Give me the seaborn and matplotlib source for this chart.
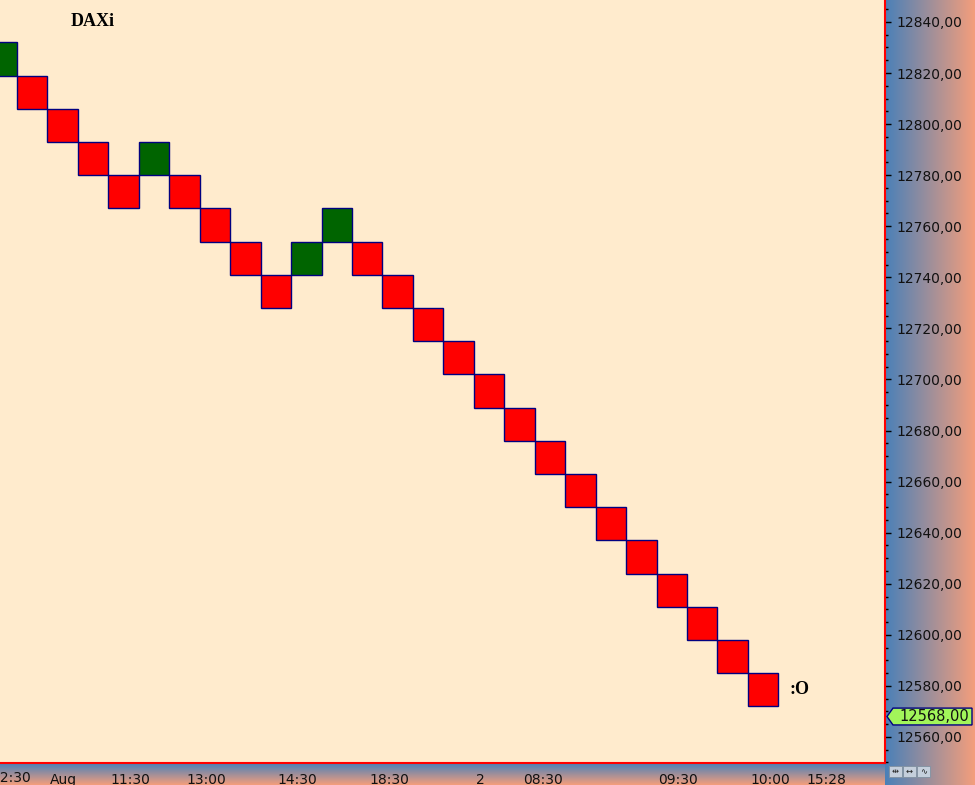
import matplotlib
matplotlib.use("Agg")
import matplotlib.pyplot as plt
import matplotlib.transforms as mtransforms
from matplotlib.colors import LinearSegmentedColormap
from matplotlib.patches import Polygon, Rectangle
from matplotlib.ticker import MultipleLocator, FuncFormatter
import numpy as np
import seaborn as sns

# renko bricks, box size 13 points (open -> close)
brick_open = [12819, 12819, 12806, 12793, 12780, 12780, 12780, 12767, 12754, 12741, 12741, 12754, 12754,
              12741, 12728, 12715, 12702, 12689, 12676, 12663, 12650, 12637, 12624, 12611, 12598, 12585]
brick_close = [12832, 12806, 12793, 12780, 12767, 12793, 12767, 12754, 12741, 12728, 12754, 12767, 12741,
               12728, 12715, 12702, 12689, 12676, 12663, 12650, 12637, 12624, 12611, 12598, 12585, 12572]

# time axis labels (brick position where the label starts)
time_ticks = [0.1, 2.0, 4.0, 6.5, 9.5, 12.5, 16.0, 17.55, 22.0, 25.03, 26.87]
time_labels = ["12:30", "Aug", "11:30", "13:00", "14:30", "18:30", "2", "08:30", "09:30", "10:00", "15:28"]

last_price = 12568
title = "DAXi"

sns.set_style("white")
plt.rcParams["font.family"] = ["DejaVu Sans"]
plt.rcParams["text.color"] = "black"

W, H = 975, 785
fig = plt.figure(figsize=(W / 100, H / 100), dpi=100)

# gradient panels behind the axes
blue_salmon = LinearSegmentedColormap.from_list("bs", ["#4a80b8", "#f49e7c"])
right_panel = fig.add_axes([885 / W, 0, 90 / W, 1], zorder=0)
right_panel.imshow(np.linspace(0, 1, 256)[None, :], aspect="auto", cmap=blue_salmon)
right_panel.axis("off")
bottom_panel = fig.add_axes([0, 0, 885 / W, 22 / H], zorder=0)
bottom_panel.imshow(np.linspace(0, 1, 64)[:, None], aspect="auto", cmap=blue_salmon)
bottom_panel.axis("off")

ax = fig.add_axes([0, 1 - 763 / H, 885 / W, 763 / H], zorder=1)
ax.set_facecolor("#ffebcd")

x = np.arange(len(brick_open)) + 0.5
lows = np.minimum(brick_open, brick_close)
heights = np.abs(np.array(brick_close) - np.array(brick_open))
colors = ["#006400" if c > o else "#ff0000" for o, c in zip(brick_open, brick_close)]
ax.bar(x, heights, bottom=lows, width=1.0, color=colors, edgecolor="#000080", linewidth=1.0)

ax.set_xlim(0.443, 29.5)
ax.set_ylim(12549.8, 12848.6)

for side in ["top", "left"]:
    ax.spines[side].set_visible(False)
for side in ["right", "bottom"]:
    ax.spines[side].set_color("#ff0000")
    ax.spines[side].set_linewidth(1.5)

# price axis on the right
ax.yaxis.tick_right()
ax.yaxis.set_major_locator(MultipleLocator(20))
ax.yaxis.set_minor_locator(MultipleLocator(5))
ax.yaxis.set_major_formatter(FuncFormatter(lambda v, p: f"{v:.2f}".replace(".", ",")))
ax.tick_params(axis="y", which="major", direction="out", length=4, width=1, color="black",
               pad=4, labelsize=10, labelcolor="#111111")
ax.tick_params(axis="y", which="minor", direction="out", length=2, width=1, color="black")

# time axis
in_view = [(t, l) for t, l in zip(time_ticks, time_labels) if t >= ax.get_xlim()[0]]
ax.set_xticks([t for t, _ in in_view])
ax.set_xticklabels([l for _, l in in_view])
ax.tick_params(axis="x", direction="out", length=4, width=1, color="black", pad=3,
               labelsize=10, labelcolor="#111111")
offset = mtransforms.ScaledTranslation(2 / 100, 0, fig.dpi_scale_trans)
for lab in ax.get_xticklabels():
    lab.set_horizontalalignment("left")
    lab.set_transform(lab.get_transform() + offset)
# first label sits partly off the left edge, as in the original
for t, l in zip(time_ticks, time_labels):
    if t < ax.get_xlim()[0]:
        ax.text(t, -0.0105, l, transform=ax.get_xaxis_transform() + offset, ha="left", va="top",
                fontsize=10, color="#111111", clip_on=False)

# title and last brick marker
ax.text(71 / 885, 1 - 22 / 763, title, transform=ax.transAxes, ha="left", va="center",
        fontsize=13, fontweight="bold", family="Liberation Serif")
ax.text(len(brick_open) + 0.35, brick_close[-1] + 6.5, ":O", ha="left", va="center",
        fontsize=13, fontweight="bold", family="Liberation Serif")

# last price tag on the price axis
tag_tr = ax.get_yaxis_transform()
half = 3.3
tag = Polygon([(887 / 885, last_price), (893 / 885, last_price + half), (972 / 885, last_price + half),
               (972 / 885, last_price - half), (893 / 885, last_price - half)],
              closed=True, transform=tag_tr, facecolor="#a2f55a", edgecolor="#000080",
              linewidth=1, clip_on=False, zorder=5)
ax.add_patch(tag)
ax.text(969 / 885, last_price, f"{last_price:.2f}".replace(".", ","), transform=tag_tr,
        ha="right", va="center", fontsize=10.5, color="#111111", clip_on=False, zorder=6)

# small toolbar buttons in the corner
for i, sym in enumerate(["⇹", "↔", "∿"]):
    fig.add_artist(Rectangle(((889 + i * 14) / W, 1 - 777 / H), 13 / W, 11 / H,
                             transform=fig.transFigure, facecolor="#c5cfdc", edgecolor="#8090a0",
                             linewidth=0.6))
    fig.text((895.5 + i * 14) / W, 1 - 771.5 / H, sym, ha="center", va="center", fontsize=6,
             color="#222222", family=["DejaVu Sans"])

plt.savefig("out.png", dpi=100)
